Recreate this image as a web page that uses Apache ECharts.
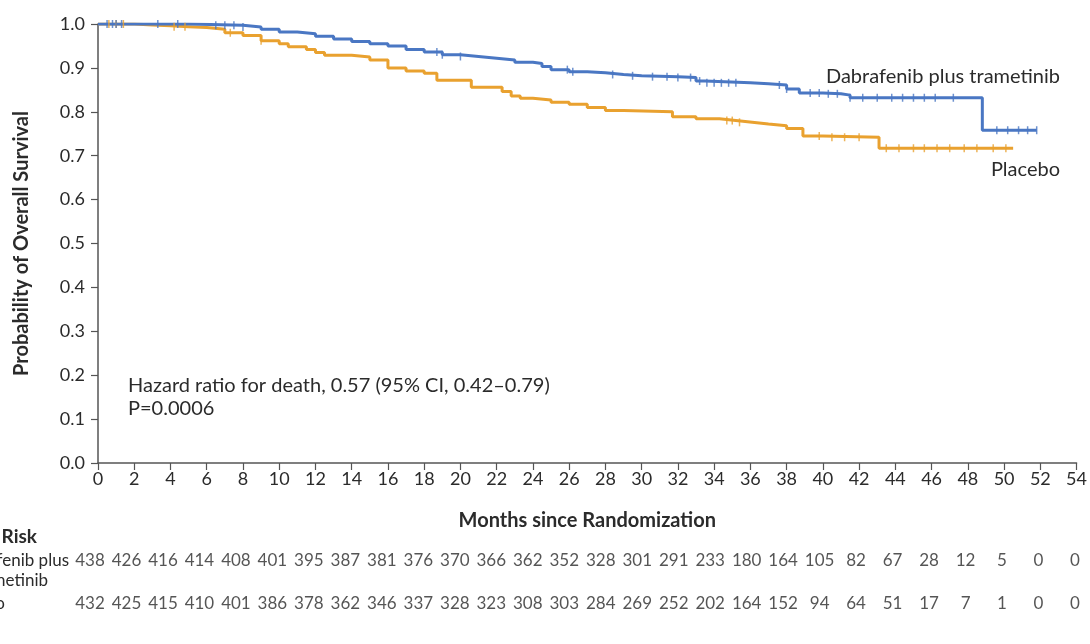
<!DOCTYPE html>
<html>
<head>
<meta charset="utf-8">
<script src="https://cdn.jsdelivr.net/npm/echarts@6/dist/echarts.min.js"></script>
<style>html,body{margin:0;padding:0;background:#fff}#c{width:1090px;height:644px}</style>
</head>
<body>
<div id="c"></div>
<script>
// ---- data ----
const dabTime = [0, 5, 8, 9, 10, 11, 12, 13, 14, 15, 16, 17, 18, 19, 20, 21, 22, 23, 24, 24.5, 25, 26, 27, 28, 29, 30, 32, 33, 33.5, 36, 37, 38, 38.7, 40, 41, 41.5, 48.8, 51.8];
const dabSurv = [1.0, 0.997, 0.993, 0.988, 0.982, 0.978, 0.972, 0.966, 0.96, 0.955, 0.95, 0.942, 0.936, 0.93, 0.926, 0.922, 0.918, 0.913, 0.91, 0.903, 0.896, 0.891, 0.889, 0.885, 0.882, 0.88, 0.878, 0.87, 0.866, 0.864, 0.861, 0.852, 0.843, 0.841, 0.838, 0.832, 0.758, 0.758];
const plaTime = [0, 2, 3, 4, 5, 6, 7, 8, 9, 10, 10.5, 11.5, 12, 12.5, 14, 15, 16, 17, 18, 18.7, 20.6, 22.3, 22.8, 23.3, 24, 25, 26, 27, 28, 29, 31.7, 33, 34.3, 35.2, 36.1, 37, 38, 38.9, 40, 43.1, 50.5];
const plaSurv = [1.0, 0.998, 0.996, 0.994, 0.992, 0.988, 0.98, 0.974, 0.962, 0.955, 0.948, 0.942, 0.935, 0.929, 0.925, 0.918, 0.9, 0.893, 0.888, 0.872, 0.856, 0.846, 0.836, 0.831, 0.827, 0.822, 0.817, 0.81, 0.803, 0.80, 0.789, 0.784, 0.78, 0.776, 0.772, 0.768, 0.762, 0.745, 0.742, 0.717, 0.716];
const dabCensor = [0.5, 0.8, 1.0, 1.3, 3.3, 4.4, 6.5, 7.0, 7.5, 8.0, 18.7, 19.0, 20.0, 25.9, 26.2, 28.4, 29.5, 30.6, 31.4, 32.0, 32.7, 33.2, 33.6, 34.0, 34.4, 34.8, 35.2, 37.6, 38.0, 39.3, 39.8, 40.3, 40.8, 41.5, 42.2, 43.0, 43.8, 44.4, 45.0, 45.6, 46.2, 47.2, 49.6, 50.2, 50.8, 51.3, 51.8];
const plaCensor = [0.6, 1.0, 1.4, 4.2, 4.8, 7.3, 9.0, 34.7, 35.0, 35.4, 39.8, 40.5, 41.2, 42.0, 43.5, 44.2, 45.0, 45.6, 46.3, 47.0, 47.8, 48.5, 49.4, 50.1];
const riskMonths = [0,2,4,6,8,10,12,14,16,18,20,22,24,26,28,30,32,34,36,38,40,42,44,46,48,50,52,54];
const dabRisk = [438,426,416,414,408,401,395,387,381,376,370,366,362,352,328,301,291,233,180,164,105,82,67,28,12,5,0,0];
const plaRisk = [432,425,415,410,401,386,378,362,346,337,328,323,308,303,284,269,252,202,164,152,94,64,51,17,7,1,0,0];
const seriesNames = ['Dabrafenib plus trametinib', 'Placebo'];

// ---- styles ----
const BLUE = '#4a77c3', ORANGE = '#e9a12f', TXT = '#2b2b2b', AX = '#555';
const FONT = 'Lato';

function stepAt(times, surv, t) {
  let v = surv[0];
  for (let i = 0; i < times.length; i++) { if (times[i] <= t) v = surv[i]; else break; }
  return v;
}
const pairs = (a, b) => a.map((t, i) => [t, b[i]]);

const chart = echarts.init(document.getElementById('c'), null, {renderer: 'canvas'});
chart.setOption({
  animation: false,
  textStyle: {fontFamily: FONT},
  grid: [
    {left: 98, right: 13, top: 24, bottom: 181, containLabel: false},
    {left: 90, right: 15, top: 561, height: 43, containLabel: false}
  ],
  xAxis: [
    {gridIndex: 0, type: 'value', min: 0, max: 54, interval: 2,
     name: 'Months since Randomization', nameLocation: 'middle', nameGap: 48,
     nameTextStyle: {fontFamily: FONT, fontSize: 20, fontWeight: 'bold', color: TXT},
     axisLine: {lineStyle: {color: AX, width: 1.5}},
     axisTick: {show: true, length: 7, lineStyle: {color: AX, width: 1.2}},
     axisLabel: {fontFamily: FONT, fontSize: 18, color: TXT, margin: 7},
     splitLine: {show: false}},
    {gridIndex: 1, type: 'value', min: 0, max: 54, show: false}
  ],
  yAxis: [
    {gridIndex: 0, type: 'value', min: 0, max: 1, interval: 0.1,
     name: 'Probability of Overall Survival', nameLocation: 'middle', nameGap: 66,
     nameTextStyle: {fontFamily: FONT, fontSize: 20, fontWeight: 'bold', color: TXT},
     axisLine: {show: true, lineStyle: {color: AX, width: 1.5}},
     axisTick: {show: true, length: 7, lineStyle: {color: AX, width: 1.2}},
     axisLabel: {fontFamily: FONT, fontSize: 18, color: TXT, margin: 13, formatter: v => v.toFixed(1)},
     splitLine: {show: false}},
    {gridIndex: 1, type: 'value', min: 0, max: 1, inverse: true, show: false}
  ],
  series: [
    {name: seriesNames[0], type: 'line', step: 'end', xAxisIndex: 0, yAxisIndex: 0,
     data: pairs(dabTime, dabSurv), showSymbol: false, lineStyle: {color: BLUE, width: 3}, z: 3},
    {name: seriesNames[1], type: 'line', step: 'end', xAxisIndex: 0, yAxisIndex: 0,
     data: pairs(plaTime, plaSurv), showSymbol: false, lineStyle: {color: ORANGE, width: 3}, z: 2},
    {type: 'scatter', xAxisIndex: 0, yAxisIndex: 0, symbol: 'rect', symbolSize: [1.5, 8],
     itemStyle: {color: BLUE}, data: dabCensor.map(t => [t, stepAt(dabTime, dabSurv, t)]), z: 4, silent: true},
    {type: 'scatter', xAxisIndex: 0, yAxisIndex: 0, symbol: 'rect', symbolSize: [1.5, 8],
     itemStyle: {color: ORANGE}, data: plaCensor.map(t => [t, stepAt(plaTime, plaSurv, t)]), z: 3, silent: true},
    {type: 'scatter', xAxisIndex: 1, yAxisIndex: 1, symbolSize: 0,
     data: riskMonths.map((m, i) => [m, 0, dabRisk[i]]),
     label: {show: true, position: 'inside', formatter: p => p.value[2], fontFamily: FONT, fontSize: 17, color: TXT}},
    {type: 'scatter', xAxisIndex: 1, yAxisIndex: 1, symbolSize: 0,
     data: riskMonths.map((m, i) => [m, 1, plaRisk[i]]),
     label: {show: true, position: 'inside', formatter: p => p.value[2], fontFamily: FONT, fontSize: 17, color: TXT}}
  ],
  graphic: [
    {type: 'text', left: 128, top: 374, style: {text: 'Hazard ratio for death, 0.57 (95% CI, 0.42\u20130.79)\nP=0.0006', font: '20px ' + FONT, fill: TXT, lineHeight: 23}},
    {type: 'text', x: 1060, y: 77, style: {text: seriesNames[0], font: '20px ' + FONT, fill: TXT, align: 'right', verticalAlign: 'middle'}},
    {type: 'text', x: 1060, y: 170, style: {text: seriesNames[1], font: '20px ' + FONT, fill: TXT, align: 'right', verticalAlign: 'middle'}},
    {type: 'text', x: 37, y: 537, style: {text: 'No. at Risk', font: 'bold 19px ' + FONT, fill: TXT, align: 'right', verticalAlign: 'middle'}},
    {type: 'text', x: 69, y: 561, style: {text: 'Dabrafenib plus', font: '17px ' + FONT, fill: TXT, align: 'right', verticalAlign: 'middle'}},
    {type: 'text', x: 48, y: 581, style: {text: 'trametinib', font: '17px ' + FONT, fill: TXT, align: 'right', verticalAlign: 'middle'}},
    {type: 'text', x: 5, y: 604, style: {text: seriesNames[1], font: '17px ' + FONT, fill: TXT, align: 'right', verticalAlign: 'middle'}}
  ]
});
</script>
</body>
</html>
